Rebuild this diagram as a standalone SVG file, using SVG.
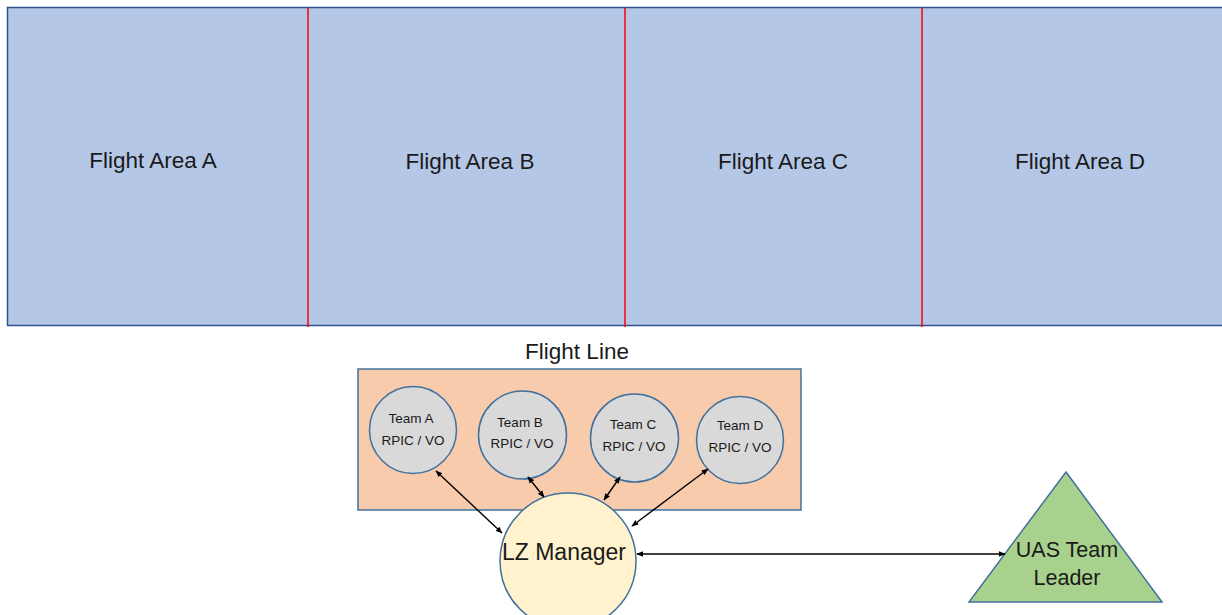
<svg xmlns="http://www.w3.org/2000/svg" width="1222" height="615" viewBox="0 0 1222 615">
<defs>
<style>
text{font-family:"Liberation Sans","Open Sans",sans-serif;fill:#1a1a1a;text-anchor:middle;dominant-baseline:central}
.area{font-size:22.5px}
.team{font-size:13.5px}
.conn{stroke:#000;stroke-width:1.4;fill:none;marker-start:url(#ah);marker-end:url(#ah)}
</style>
<marker id="ah" viewBox="0 0 10 10" refX="9" refY="5" markerWidth="7" markerHeight="7" orient="auto-start-reverse" markerUnits="userSpaceOnUse">
<path d="M0,1 L10,5 L0,9 z" fill="#000"/>
</marker>
</defs>
<rect width="1222" height="615" fill="#fff"/>
<g id="flight-areas">
<rect x="7.5" y="7.5" width="1225" height="318" fill="#B4C7E7" stroke="#2F528F" stroke-width="1.5"/>
<line x1="308" y1="8" x2="308" y2="327" stroke="#FF0000" stroke-width="1.5"/>
<line x1="625" y1="8" x2="625" y2="327" stroke="#FF0000" stroke-width="1.5"/>
<line x1="922" y1="8" x2="922" y2="327" stroke="#FF0000" stroke-width="1.5"/>
<text class="area" x="153" y="160">Flight Area A</text>
<text class="area" x="470" y="161">Flight Area B</text>
<text class="area" x="783" y="161">Flight Area C</text>
<text class="area" x="1080" y="161">Flight Area D</text>
</g>
<g id="flight-line">
<text class="area" x="577" y="351">Flight Line</text>
<rect x="358" y="369" width="443" height="141" fill="#F8CBAD" stroke="#41719C" stroke-width="1.5"/>
</g>
<g id="team-a">
<circle cx="413" cy="430" r="43.5" fill="#D9D9D9" stroke="#41719C" stroke-width="1.5"/>
<text class="team" x="411" y="418">Team A</text>
<text class="team" x="413" y="440">RPIC / VO</text>
</g>
<g id="team-b">
<circle cx="522.5" cy="435" r="44" fill="#D9D9D9" stroke="#41719C" stroke-width="1.5"/>
<text class="team" x="520" y="422">Team B</text>
<text class="team" x="522" y="443">RPIC / VO</text>
</g>
<g id="team-c">
<circle cx="634.5" cy="438" r="44" fill="#D9D9D9" stroke="#41719C" stroke-width="1.5"/>
<text class="team" x="633" y="424">Team C</text>
<text class="team" x="634" y="446">RPIC / VO</text>
</g>
<g id="team-d">
<circle cx="740" cy="440" r="43.5" fill="#D9D9D9" stroke="#41719C" stroke-width="1.5"/>
<text class="team" x="740" y="425">Team D</text>
<text class="team" x="740" y="447">RPIC / VO</text>
</g>
<g id="lz-manager">
<circle cx="568" cy="561" r="68" fill="#FFF2CC" stroke="#41719C" stroke-width="1.5"/>
<text x="564" y="552" style="font-size:23px">LZ Manager</text>
</g>
<g id="uas-team-leader">
<polygon points="1066,472 1162,602 969,602" fill="#A9D18E" stroke="#41719C" stroke-width="1.5"/>
<text x="1067" y="550" style="font-size:21.5px">UAS Team</text>
<text x="1067" y="578" style="font-size:21.5px">Leader</text>
</g>
<g id="connectors">
<line class="conn" x1="436" y1="471" x2="502" y2="533"/>
<line class="conn" x1="528" y1="477" x2="544" y2="497"/>
<line class="conn" x1="620" y1="477" x2="604" y2="500"/>
<line class="conn" x1="708" y1="469" x2="632" y2="526"/>
<line class="conn" x1="637" y1="554" x2="1005" y2="554"/>
</g>
</svg>
